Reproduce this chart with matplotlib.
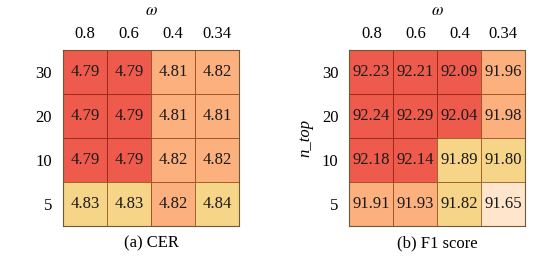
import numpy as np
import matplotlib
matplotlib.use("Agg")
import matplotlib.pyplot as plt
from matplotlib.colors import ListedColormap, BoundaryNorm, to_rgb

plt.rcParams['font.family'] = ['Liberation Serif', 'DejaVu Serif']
plt.rcParams['mathtext.fontset'] = 'stix'

omega_labels = ["0.8", "0.6", "0.4", "0.34"]
ntop_labels = ["30", "20", "10", "5"]

cer = np.array([
    [4.79, 4.79, 4.81, 4.82],
    [4.79, 4.79, 4.81, 4.81],
    [4.79, 4.79, 4.82, 4.82],
    [4.83, 4.83, 4.82, 4.84],
])
f1 = np.array([
    [92.23, 92.21, 92.09, 91.96],
    [92.24, 92.29, 92.04, 91.98],
    [92.18, 92.14, 91.89, 91.80],
    [91.91, 91.93, 91.82, 91.65],
])

RED = "#EE5B4C"
ORANGE = "#FCB07E"
YELLOW = "#F6D488"
PALE = "#FEE5CC"

cer_cmap = ListedColormap([RED, ORANGE, YELLOW])
cer_norm = BoundaryNorm([4.70, 4.80, 4.825, 4.90], cer_cmap.N)
f1_cmap = ListedColormap([PALE, YELLOW, ORANGE, RED])
f1_norm = BoundaryNorm([91.0, 91.7, 91.9, 92.0, 93.0], f1_cmap.N)

fig = plt.figure(figsize=(5.46, 2.71), dpi=100)
ax1 = fig.add_axes([0.1154, 0.166, 0.3223, 0.6494])
ax2 = fig.add_axes([0.640, 0.166, 0.3223, 0.6494])


def darken(c, f=0.66):
    r, g, b = to_rgb(c)
    return (r * f, g * f * 0.72, b * f * 0.45)


def draw(ax, data, cmap, norm, fmt, caption):
    nrow, ncol = data.shape
    mesh = ax.pcolormesh(np.arange(ncol + 1), np.arange(nrow + 1), data,
                         cmap=cmap, norm=norm, linewidth=0.7)
    fc = cmap(norm(data.ravel()))
    mesh.set_edgecolor([darken(c) for c in fc])
    ax.set_xlim(0, ncol)
    ax.set_ylim(nrow, 0)
    for i in range(nrow):
        for j in range(ncol):
            ax.text(j + 0.5, i + 0.5, fmt.format(data[i, j]), ha='center',
                    va='center', fontsize=12, color='#1a1a1a')
    ax.xaxis.tick_top()
    ax.set_xticks(np.arange(ncol) + 0.5)
    ax.set_xticklabels(omega_labels, fontsize=12)
    ax.set_yticks(np.arange(nrow) + 0.5)
    ax.set_yticklabels(ntop_labels, fontsize=12)
    ax.tick_params(length=0, pad=8)
    ax.tick_params(axis='x', pad=6)
    for s in ax.spines.values():
        s.set_color('#6b5a3a')
        s.set_linewidth(0.8)
    ax.set_title(r"$\omega$", fontsize=12, pad=8)
    ax.text(0.5, -0.1, caption, transform=ax.transAxes, ha='center',
            va='center', fontsize=12)


draw(ax1, cer, cer_cmap, cer_norm, "{:.2f}", "(a) CER")
draw(ax2, f1, f1_cmap, f1_norm, "{:.2f}", "(b) F1 score")
ax2.set_ylabel("n_top", fontsize=12, style='italic', labelpad=6)

fig.savefig("out.png", dpi=100)
